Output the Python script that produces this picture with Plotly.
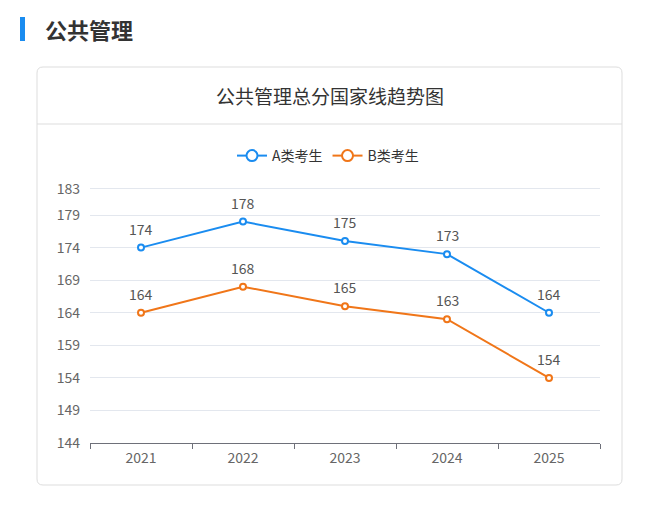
import plotly.graph_objects as go

years = ["2021", "2022", "2023", "2024", "2025"]
a_scores = [174, 178, 175, 173, 164]
b_scores = [164, 168, 165, 163, 154]
y_ticks = [144, 149, 154, 159, 164, 169, 174, 179, 183]
series_names = ["A类考生", "B类考生"]
series_colors = ["#1a8cf0", "#f07619"]

W, H = 655, 507
FONT = "Noto Sans CJK SC"

def px(x):
    return x / W

def py(y):
    return 1 - y / H

# plot area: value 144 at 443px, 183 at 189px; extend range a little so top gridline shows
y_lo, y_hi = y_ticks[0], y_ticks[-1]
scale = (443 - 189) / (y_hi - y_lo)
extra = 0.3
top_px = 189 - extra * scale

fig = go.Figure()
for name, vals, col in zip(series_names, [a_scores, b_scores], series_colors):
    fig.add_trace(go.Scatter(
        x=years, y=vals, name=name, mode="lines+markers", showlegend=False,
        line=dict(color=col, width=2),
        marker=dict(symbol="circle", size=6, color="white", line=dict(color=col, width=2)),
        hoverinfo="skip",
    ))
# legend entries (no data drawn)
for name, col in zip(series_names, series_colors):
    fig.add_trace(go.Scatter(
        x=[None], y=[None], name=name, mode="lines+markers",
        line=dict(color=col, width=2),
        marker=dict(symbol="circle", size=11, color="white", line=dict(color=col, width=2)),
    ))

annotations = []
for vals in [a_scores, b_scores]:
    for i, v in enumerate(vals):
        annotations.append(dict(x=i, y=v, xref="x", yref="y", text=str(v), showarrow=False,
                                yshift=19, font=dict(family=FONT, size=14, color="#555555")))

annotations.append(dict(x=px(329.5), y=py(96), xref="paper", yref="paper", text="公共管理总分国家线趋势图",
                        showarrow=False, xanchor="center", yanchor="middle",
                        font=dict(family=FONT, size=19, color="#333333")))
annotations.append(dict(x=px(43), y=py(29), xref="paper", yref="paper", text="<b>公共管理</b>",
                        showarrow=False, xanchor="left", yanchor="middle",
                        font=dict(family=FONT, size=22, color="#333333")))

r = 6
x0, x1, y0, y1 = px(37), px(622), py(67), py(485)
rx, ry = r / W, r / H
card_path = (f"M {x0+rx},{y0} L {x1-rx},{y0} Q {x1},{y0} {x1},{y0-ry} "
             f"L {x1},{y1+ry} Q {x1},{y1} {x1-rx},{y1} L {x0+rx},{y1} Q {x0},{y1} {x0},{y1+ry} "
             f"L {x0},{y0-ry} Q {x0},{y0} {x0+rx},{y0} Z")

shapes = [
    dict(type="path", path=card_path, xref="paper", yref="paper",
         line=dict(color="#dddddd", width=1), fillcolor="rgba(0,0,0,0)", layer="below"),
    dict(type="line", x0=x0, x1=x1, y0=py(124), y1=py(124), xref="paper", yref="paper",
         line=dict(color="#dddddd", width=1)),
    dict(type="rect", x0=px(20), x1=px(25), y0=py(17), y1=py(41), xref="paper", yref="paper",
         line=dict(width=0), fillcolor="#1a8cf0"),
]

fig.update_layout(
    width=W, height=H, margin=dict(l=0, r=0, t=0, b=0, pad=0, autoexpand=False),
    paper_bgcolor="white", plot_bgcolor="white",
    font=dict(family=FONT, color="#666666"),
    showlegend=True,
    legend=dict(orientation="h", x=px(328), y=py(156), xanchor="center", yanchor="middle",
                font=dict(family=FONT, size=14, color="#333333"), itemwidth=30,
                bgcolor="rgba(0,0,0,0)"),
    xaxis=dict(domain=[px(90), px(600)], type="category", range=[-0.5, 4.5], automargin=False,
               showgrid=False, showline=True, linecolor="#6E7079", linewidth=1,
               ticks="outside", tickson="boundaries", ticklen=5, tickcolor="#6E7079",
               ticklabelstandoff=2,
               tickfont=dict(family=FONT, size=14, color="#666666"), fixedrange=True),
    yaxis=dict(domain=[py(443), py(top_px)], range=[y_lo, y_hi + extra], tickvals=y_ticks,
               automargin=False,
               showgrid=True, gridcolor="#E3E7EE", gridwidth=1, zeroline=False, showline=False,
               ticks="", ticklabelstandoff=9,
               tickfont=dict(family=FONT, size=14, color="#666666"), fixedrange=True),
    annotations=annotations,
    shapes=shapes,
)

fig.write_html("out.html", config={"displayModeBar": False},
               post_script="document.body.style.margin='0';")
